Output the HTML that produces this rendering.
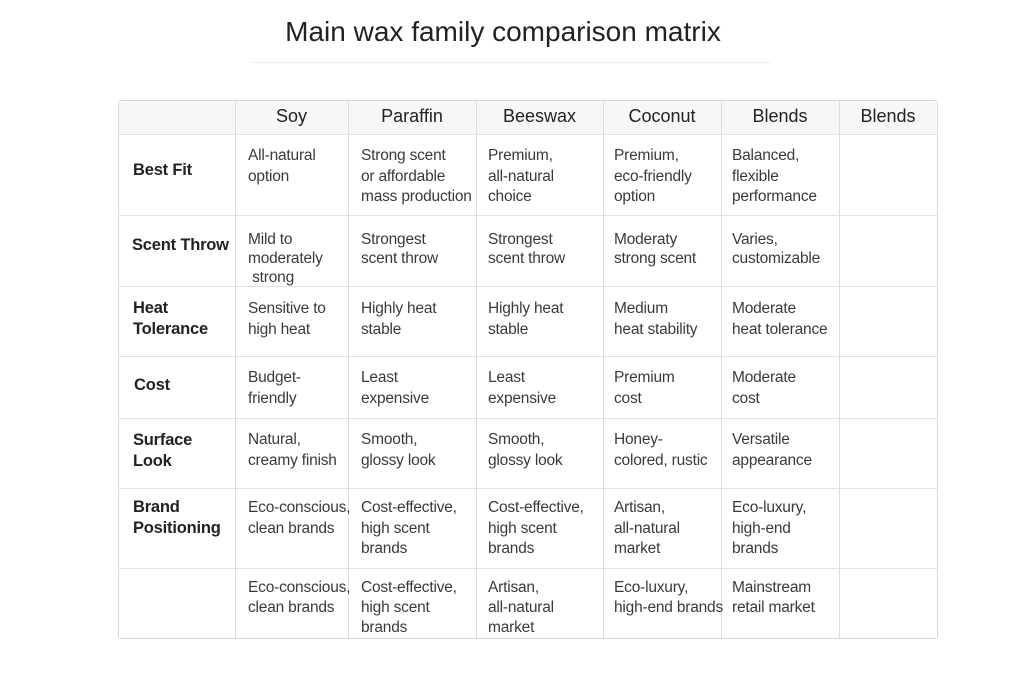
<!DOCTYPE html>
<html><head><meta charset="utf-8"><style>
body{margin:0;width:1024px;height:683px;background:#fff;position:relative;overflow:hidden;font-family:"Liberation Sans","DejaVu Sans",sans-serif;color:#333}
.t{position:absolute;font-size:15.5px;line-height:20.5px;white-space:nowrap;color:#3a3a3a;letter-spacing:-0.2px}
.l{position:absolute;font-size:16.5px;line-height:21px;white-space:nowrap;color:#222;font-weight:bold;letter-spacing:-0.2px}
.h{position:absolute;top:105px;font-size:18px;line-height:22px;color:#222;text-align:center}
.v{position:absolute;top:100px;width:1px;height:538px;background:#dcdcdc}
.r{position:absolute;left:118px;width:819px;height:1px;background:#e2e2e2}
</style></head><body>
<div style="position:absolute;left:0;width:1006px;top:16px;text-align:center;font-size:28px;color:#222">Main wax family comparison matrix</div>
<div style="position:absolute;left:250px;top:62px;width:520px;height:1px;background:#ececec"></div>
<div style="position:absolute;left:118px;top:100px;width:818px;height:537px;border:1px solid #d8d8d8;border-radius:3px"></div>
<div style="position:absolute;left:119px;top:101px;width:817px;height:33px;background:#f7f7f7"></div>
<div class="v" style="left:235px"></div><div class="v" style="left:348px"></div><div class="v" style="left:476px"></div><div class="v" style="left:603px"></div><div class="v" style="left:721px"></div><div class="v" style="left:839px"></div>
<div class="r" style="top:134px"></div><div class="r" style="top:215px"></div><div class="r" style="top:286px"></div><div class="r" style="top:356px"></div><div class="r" style="top:418px"></div><div class="r" style="top:488px"></div><div class="r" style="top:568px"></div>
<div class="h" style="left:235px;width:113px">Soy</div>
<div class="h" style="left:348px;width:128px">Paraffin</div>
<div class="h" style="left:476px;width:127px">Beeswax</div>
<div class="h" style="left:603px;width:118px">Coconut</div>
<div class="h" style="left:721px;width:118px">Blends</div>
<div class="h" style="left:839px;width:98px">Blends</div>

<div class="l" style="left:133px;top:160px">Best Fit</div>
<div class="l" style="left:132px;top:235px">Scent Throw</div>
<div class="l" style="left:133px;top:298px">Heat<br>Tolerance</div>
<div class="l" style="left:134px;top:375px">Cost</div>
<div class="l" style="left:133px;top:430px">Surface<br>Look</div>
<div class="l" style="left:133px;top:497px">Brand<br>Positioning</div>

<div class="t" style="left:248px;top:146px">All-natural<br>option</div>
<div class="t" style="left:361px;top:146px">Strong scent<br>or affordable<br>mass production</div>
<div class="t" style="left:488px;top:146px">Premium,<br>all-natural<br>choice</div>
<div class="t" style="left:614px;top:146px">Premium,<br>eco-friendly<br>option</div>
<div class="t" style="left:732px;top:146px">Balanced,<br>flexible<br>performance</div>

<div class="t" style="left:248px;top:230px;line-height:19px">Mild to<br>moderately<br>&nbsp;strong</div>
<div class="t" style="left:361px;top:230px;line-height:19px">Strongest<br>scent throw</div>
<div class="t" style="left:488px;top:230px;line-height:19px">Strongest<br>scent throw</div>
<div class="t" style="left:614px;top:230px;line-height:19px">Moderaty<br>strong scent</div>
<div class="t" style="left:732px;top:230px;line-height:19px">Varies,<br>customizable</div>

<div class="t" style="left:248px;top:299px">Sensitive to<br>high heat</div>
<div class="t" style="left:361px;top:299px">Highly heat<br>stable</div>
<div class="t" style="left:488px;top:299px">Highly heat<br>stable</div>
<div class="t" style="left:614px;top:299px">Medium<br>heat stability</div>
<div class="t" style="left:732px;top:299px">Moderate<br>heat tolerance</div>

<div class="t" style="left:248px;top:368px">Budget-<br>friendly</div>
<div class="t" style="left:361px;top:368px">Least<br>expensive</div>
<div class="t" style="left:488px;top:368px">Least<br>expensive</div>
<div class="t" style="left:614px;top:368px">Premium<br>cost</div>
<div class="t" style="left:732px;top:368px">Moderate<br>cost</div>

<div class="t" style="left:248px;top:430px">Natural,<br>creamy finish</div>
<div class="t" style="left:361px;top:430px">Smooth,<br>glossy look</div>
<div class="t" style="left:488px;top:430px">Smooth,<br>glossy look</div>
<div class="t" style="left:614px;top:430px">Honey-<br>colored, rustic</div>
<div class="t" style="left:732px;top:430px">Versatile<br>appearance</div>

<div class="t" style="left:248px;top:498px">Eco-conscious,<br>clean brands</div>
<div class="t" style="left:361px;top:498px">Cost-effective,<br>high scent<br>brands</div>
<div class="t" style="left:488px;top:498px">Cost-effective,<br>high scent<br>brands</div>
<div class="t" style="left:614px;top:498px">Artisan,<br>all-natural<br>market</div>
<div class="t" style="left:732px;top:498px">Eco-luxury,<br>high-end<br>brands</div>

<div class="t" style="left:248px;top:578px;line-height:20px">Eco-conscious,<br>clean brands</div>
<div class="t" style="left:361px;top:578px;line-height:20px">Cost-effective,<br>high scent<br>brands</div>
<div class="t" style="left:488px;top:578px;line-height:20px">Artisan,<br>all-natural<br>market</div>
<div class="t" style="left:614px;top:578px;line-height:20px">Eco-luxury,<br>high-end brands</div>
<div class="t" style="left:732px;top:578px;line-height:20px">Mainstream<br>retail market</div>
</body></html>
